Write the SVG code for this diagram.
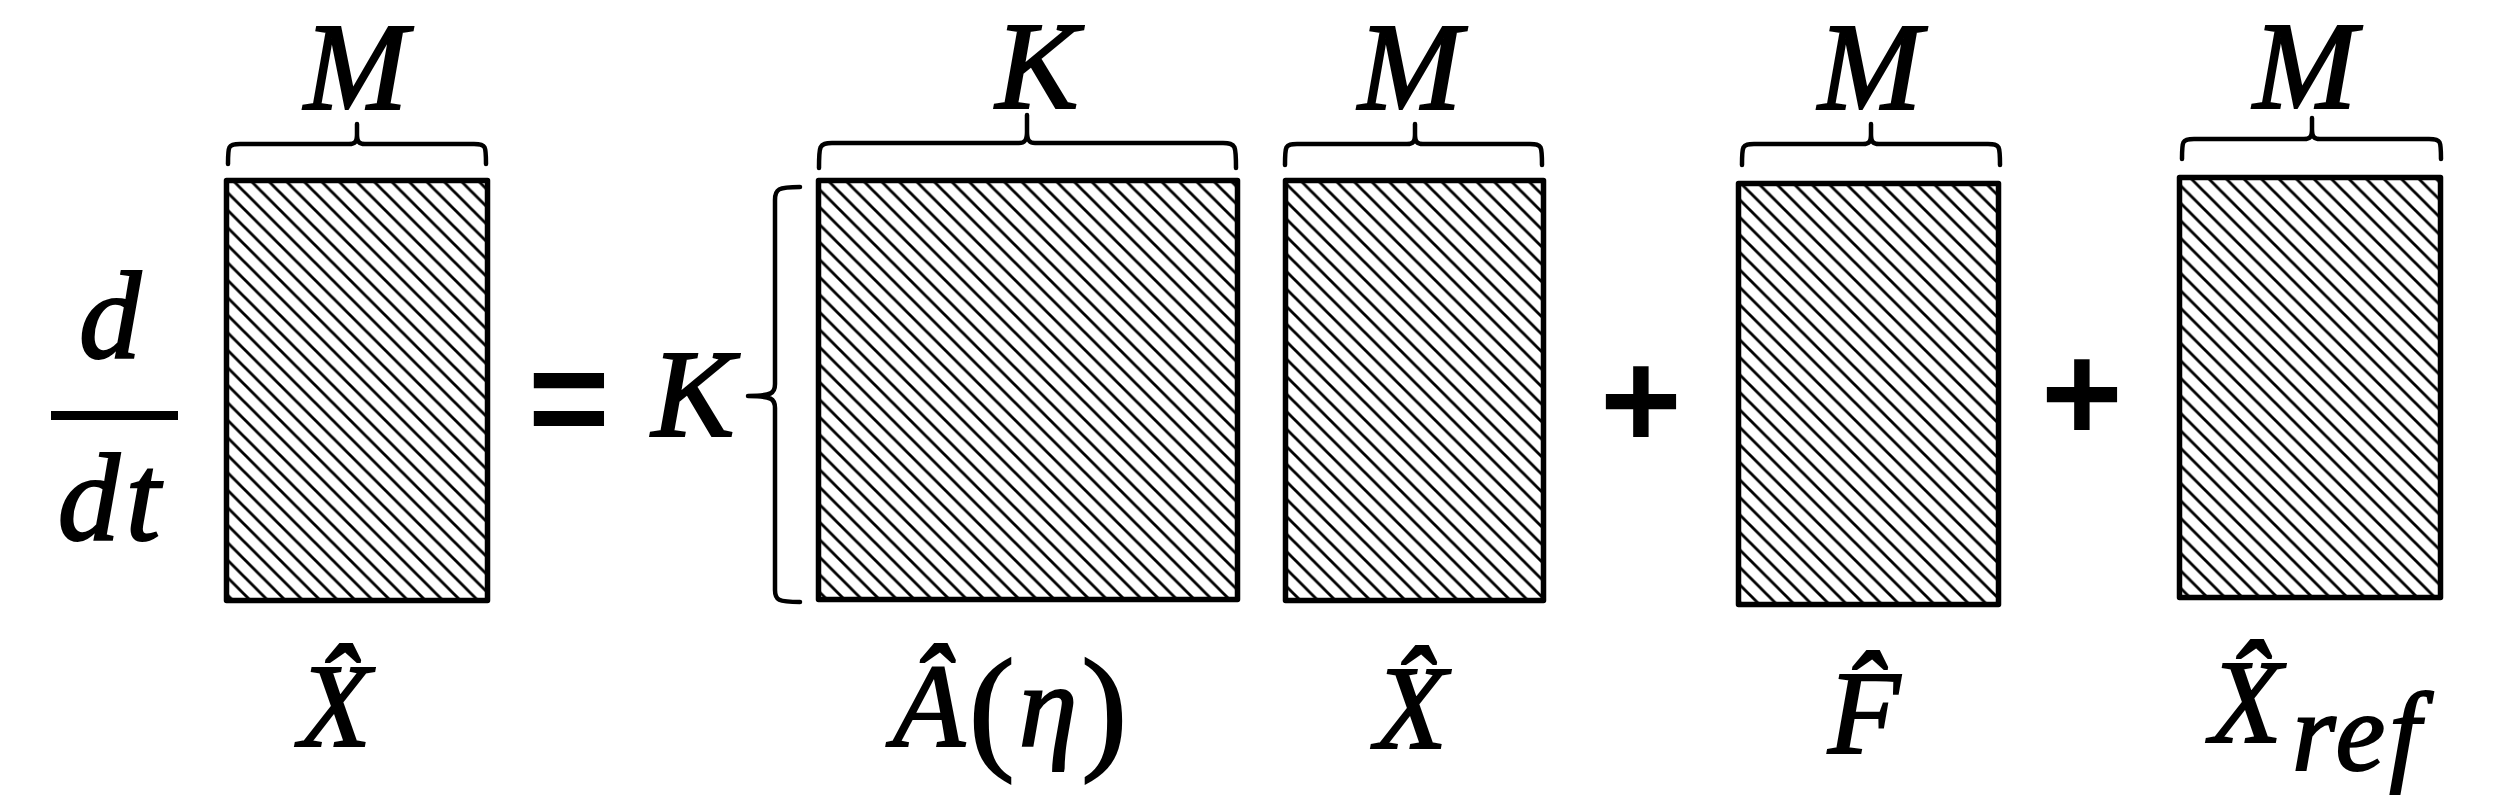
<svg xmlns="http://www.w3.org/2000/svg" width="2500" height="800" viewBox="0 0 2500 800">
<style>
.mat{fill:url(#hatch);stroke:#000;stroke-width:5.5;stroke-linejoin:round}
.br{fill:none;stroke:#000;stroke-width:4.5;stroke-linecap:round;stroke-linejoin:round}
.m{font-family:"Liberation Serif",serif;font-style:italic;font-size:124px;fill:#000;stroke:#000;stroke-width:2.2;text-anchor:middle}
.lb{font-family:"Liberation Serif",serif;font-style:italic;font-size:118px;fill:#000;stroke:#000;stroke-width:2;text-anchor:middle}
.op{font-family:"Liberation Sans",sans-serif;font-weight:bold;font-size:140px;fill:#000;text-anchor:middle}
</style>
<defs>
<pattern id="hatch" patternUnits="userSpaceOnUse" width="17.5" height="17.5">
<rect width="17.5" height="17.5" fill="#fff"/>
<path d="M-2,-2 L19.5,19.5 M-2,15.5 L2,19.5 M15.5,-2 L19.5,2" stroke="#000" stroke-width="2.8"/>
</pattern>
</defs>
<rect width="2500" height="800" fill="#fff"/>

<g id="ddt">
<text class="m" x="110" y="358" font-size="132">d</text>
<line x1="51" y1="415.5" x2="178" y2="415.5" stroke="#000" stroke-width="9"/>
<text class="m" x="112" y="540" font-size="132" letter-spacing="6">dt</text>
</g>

<g id="matrix-X">
<rect class="mat" x="226.5" y="180.5" width="261" height="420"/>
<path class="br" d="M228,164 C228,146 228,144 240,144 L349,144 C355,144 357,142 357,134 L357,124 M357,134 C357,142 359,144 365,144 L474,144 C486,144 486,146 486,164"/>
<text class="m" x="356" y="109">M</text>
<text class="lb" x="335" y="746">X̂</text>
</g>

<g id="equals">
<text class="op" x="569" y="446">=</text>
</g>

<g id="matrix-A">
<text class="m" x="693" y="436" font-size="128">K</text>
<path class="br" d="M800,187 C778,187 775,189 775,200 L775,384 C775,393 772,396 748,396 C772,396 775,399 775,408 L775,590 C775,600 778,602 800,602"/>
<rect class="mat" x="818.5" y="180.5" width="419" height="419"/>
<path class="br" d="M819,168 C819,146 819,143 832,143 L1019,143 C1025,143 1027,140 1027,132 L1027,115 M1027,132 C1027,140 1029,143 1035,143 L1223,143 C1236,143 1236,146 1236,168"/>
<text class="m" x="1037" y="108" font-size="128">K</text>
<text class="lb" x="1012" y="746" font-size="122" letter-spacing="4">Â<tspan font-style="normal" font-size="138" dy="8">(</tspan><tspan dy="-8">η</tspan><tspan font-style="normal" font-size="138" dy="8">)</tspan></text>
</g>

<g id="matrix-X2">
<rect class="mat" x="1285.5" y="180.5" width="258" height="420"/>
<path class="br" d="M1285,165 C1285,146 1285,144 1297,144 L1407,144 C1413,144 1415,142 1415,134 L1415,124 M1415,134 C1415,142 1417,144 1423,144 L1530,144 C1542,144 1542,146 1542,165"/>
<text class="m" x="1410" y="109">M</text>
<text class="lb" x="1411" y="748">X̂</text>
</g>

<g id="plus1">
<text class="op" x="1641" y="448">+</text>
</g>

<g id="matrix-F">
<rect class="mat" x="1738.5" y="183.5" width="260" height="421"/>
<path class="br" d="M1742,165 C1742,146 1742,144 1754,144 L1863,144 C1869,144 1871,142 1871,134 L1871,124 M1871,134 C1871,142 1873,144 1879,144 L1988,144 C2000,144 2000,146 2000,165"/>
<text class="m" x="1870" y="109">M</text>
<text class="lb" x="1864" y="753">F̂</text>
</g>

<g id="plus2">
<text class="op" x="2082" y="441">+</text>
</g>

<g id="matrix-Xref">
<rect class="mat" x="2179.5" y="177.5" width="261" height="420"/>
<path class="br" d="M2182,159 C2182,141 2182,139 2194,139 L2304,139 C2310,139 2312,137 2312,129 L2312,118 M2312,129 C2312,137 2314,139 2320,139 L2429,139 C2441,139 2441,141 2441,159"/>
<text class="m" x="2305" y="108">M</text>
<text class="lb" x="2210" y="742" style="text-anchor:start">X̂<tspan font-size="112" dx="10" dy="28" letter-spacing="4">ref</tspan></text>
</g>

<g id="connectors"></g>
</svg>
